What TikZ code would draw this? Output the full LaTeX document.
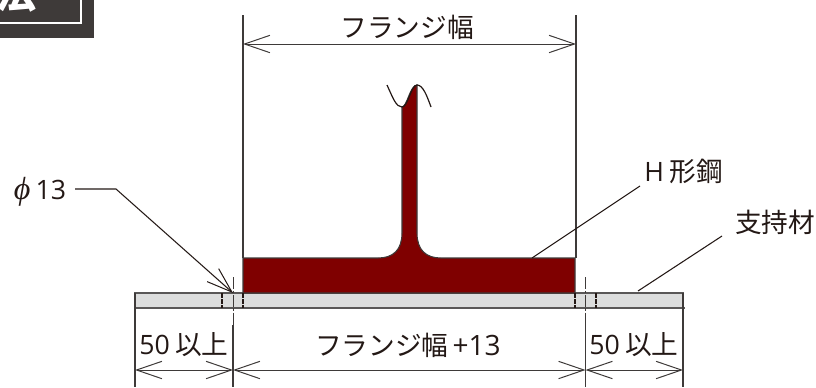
\documentclass[tikz,border=0pt]{standalone}
\usepackage{fontspec}
\setmainfont{Noto Sans CJK JP}
\newfontfamily\latinf{Open Sans}
\newfontfamily\phif{Liberation Serif}
\usetikzlibrary{arrows.meta}
\definecolor{ink}{HTML}{231815}
\definecolor{dark}{HTML}{3E3A39}
\definecolor{steel}{HTML}{7F0000}
\definecolor{plate}{HTML}{DCDDDD}
\definecolor{plateedge}{HTML}{595757}
\tikzset{
  x=0.75pt,y=-0.75pt,
  ext line/.style={draw=dark,line width=0.85pt},
  dim line/.style={draw=dark,line width=0.75pt,{Straight Barb[length=19pt,width=13pt,line width=0.75pt]}-{Straight Barb[length=19pt,width=13pt,line width=0.75pt]}},
  leader/.style={draw=ink,line width=0.8pt},
  lab/.style={inner sep=0pt,text=ink,font=\fontsize{20pt}{20pt}\selectfont},
}
\begin{document}
\begin{tikzpicture}
\useasboundingbox (0,0) rectangle (816,387);
% title tab
\fill[dark] (0,0) rectangle (94,38);
\draw[white,line width=1.1pt] (-3,23) -- (81,23) -- (81,-3);
\begin{scope}
\clip (0,0) rectangle (94,23);
\node[inner sep=0pt,text=white,font=\fontsize{30pt}{30pt}\selectfont\bfseries] (title) at (17,-7) {法};
\end{scope}
% plate
\fill[plate] (135,293) rectangle (683,308);
\draw[draw=plateedge,line width=0.8pt] (135,308) -- (135,293) -- (683,293) -- (683,308);
\draw[draw=plateedge,line width=1.4pt] (135,308) -- (685,308);
% steel section
\draw[draw=dark,line width=0.8pt,fill=steel]
 (243,293) -- (243,258) -- (378,258)
 .. controls (393,258) and (402,250) .. (402,233)
 -- (402,107)
 .. controls (407,107) and (410,85) .. (417,85)
 -- (417,233)
 .. controls (417,250) and (426,258) .. (441,258)
 -- (575,258) -- (575,293) -- cycle;
\draw[draw=ink,line width=0.9pt] (387,85) .. controls (393,98) and (396,107) .. (402,107)
 .. controls (408,107) and (411,85) .. (417,85)
 .. controls (423,85) and (427,96) .. (431,107);
% hole dashed lines
\foreach \x in {222,243,575,596}
  \draw[draw=ink,line width=0.9pt,dash pattern=on 3.5pt off 1pt] (\x,293) -- (\x,308);
% extension lines
\coordinate (fl1) at (243,15); \coordinate (fl2) at (243,258);
\coordinate (fr1) at (576,15); \coordinate (fr2) at (576,258);
\draw[ext line] (fl1) -- (fl2);
\draw[ext line] (fr1) -- (fr2);
\coordinate (pl1) at (135,293); \coordinate (pl2) at (135,387);
\coordinate (pr1) at (683,293); \coordinate (pr2) at (683,387);
\draw[ext line] (pl1) -- (pl2);
\draw[ext line] (pr1) -- (pr2);
% centre lines
\coordinate (cl1) at (233,277); \coordinate (cl2) at (233,387);
\coordinate (cr1) at (585.5,277); \coordinate (cr2) at (585.5,387);
\draw[draw=dark,line width=0.7pt,dash pattern=on 9pt off 1.2pt on 2pt off 1.2pt] (233,277) -- (233,325);
\draw[ext line] (233,325) -- (cl2);
\draw[draw=dark,line width=0.7pt,dash pattern=on 9pt off 1.2pt on 2pt off 1.2pt] (585.5,277) -- (585.5,325);
\draw[ext line] (585.5,325) -- (cr2);
% dimensions
\coordinate (d1a) at (243,44); \coordinate (d1b) at (576,44);
\draw[dim line] (d1a) -- (d1b);
\coordinate (d2) at (135,370); \coordinate (d3) at (233,370);
\coordinate (d4) at (585.5,370); \coordinate (d5) at (683,370);
\draw[dim line] (d2) -- (d3);
\draw[dim line] (d3) -- (d4);
\draw[dim line] (d4) -- (d5);
% labels
\node[lab] (wtop) at (407,27) {フランジ幅};
\node[lab] (hlab) at (683.5,171) {{\latinf H}\hspace{4pt}形鋼};
\node[lab] (slab) at (775,222) {支持材};
\node[lab] (phi) at (40,192) {{\phif\itshape\fontsize{24pt}{24pt}\selectfont ϕ}\hspace{4pt}{\latinf\fontsize{20pt}{20pt}\selectfont 13}};
\node[lab] (d50l) at (184,345) {{\latinf\fontsize{20pt}{20pt}\selectfont 50}\hspace{4pt}以上};
\node[lab] (dmid) at (408,345) {フランジ幅\hspace{3pt}{\latinf\fontsize{21pt}{21pt}\selectfont +13}};
\node[lab] (d50r) at (634,345) {{\latinf\fontsize{20pt}{20pt}\selectfont 50}\hspace{4pt}以上};
% leaders
\coordinate (p1) at (75,189); \coordinate (p2) at (116,189); \coordinate (p3) at (233,293);
\draw[leader,-{Straight Barb[length=19pt,width=13pt,line width=0.75pt]}] (p1) -- (p2) -- (p3);
\coordinate (h1) at (640,186); \coordinate (h2) at (532,258);
\draw[leader] (h1) -- (h2);
\coordinate (s1) at (722,236); \coordinate (s2) at (638,291);
\draw[leader] (s1) -- (s2);
\end{tikzpicture}
\end{document}
